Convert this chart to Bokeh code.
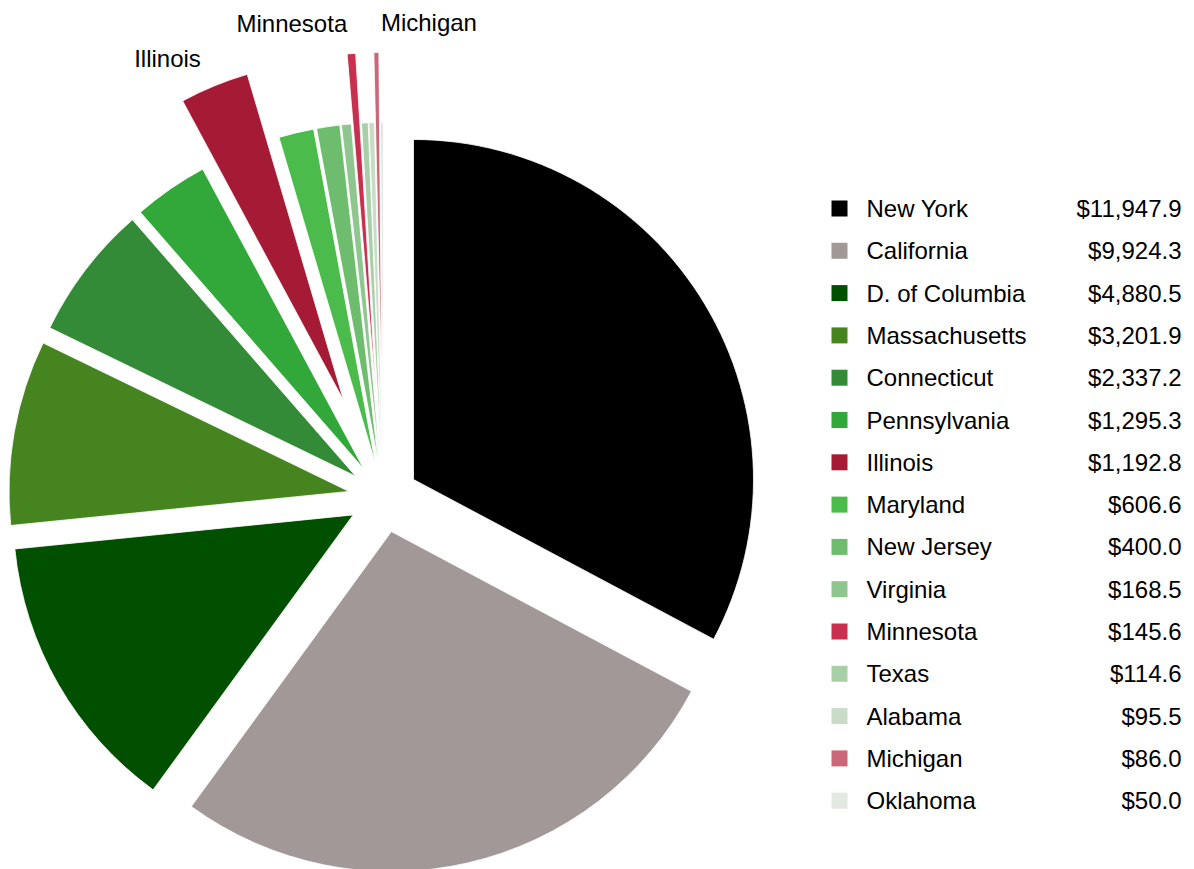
import math
from bokeh.plotting import figure
from bokeh.models import ColumnDataSource, Range1d
from bokeh.core.properties import value
from bokeh.embed import file_html
from bokeh.resources import INLINE

# ---- data ----
states = ["New York", "California", "D. of Columbia", "Massachusetts", "Connecticut",
          "Pennsylvania", "Illinois", "Maryland", "New Jersey", "Virginia",
          "Minnesota", "Texas", "Alabama", "Michigan", "Oklahoma"]
amounts = [11947.9, 9924.3, 4880.5, 3201.9, 2337.2, 1295.3, 1192.8, 606.6, 400.0,
           168.5, 145.6, 114.6, 95.5, 86.0, 50.0]
value_labels = ["$11,947.9", "$9,924.3", "$4,880.5", "$3,201.9", "$2,337.2", "$1,295.3",
                "$1,192.8", "$606.6", "$400.0", "$168.5", "$145.6", "$114.6", "$95.5",
                "$86.0", "$50.0"]
colors = ["#000000", "#a19897", "#005000", "#468420", "#338a37", "#33a83a", "#a51a35",
          "#4bbb4b", "#6ebd6e", "#8fc58f", "#c9304f", "#a9cfa9", "#c8dcc8", "#c96879",
          "#e1e9e1"]
highlighted = ["Illinois", "Minnesota", "Michigan"]
label_align = {"Illinois": "right", "Minnesota": "right", "Michigan": "left"}

W, H = 1194, 869
CX, CY = 383, H - 497
R = 340
D_NORMAL = 35
D_HIGH = 105
FONT = "24px"

total = sum(amounts)
xs, ys, starts, ends = [], [], [], []
lab_x, lab_y, lab_t, lab_a = [], [], [], []
cum = 0.0
for name, v in zip(states, amounts):
    a0 = cum / total * 2 * math.pi
    cum += v
    a1 = cum / total * 2 * math.pi
    bis = (a0 + a1) / 2
    d = D_HIGH if name in highlighted else D_NORMAL
    ox = CX + d * math.sin(bis)
    oy = CY + d * math.cos(bis)
    xs.append(ox)
    ys.append(oy)
    starts.append(math.pi / 2 - a1)
    ends.append(math.pi / 2 - a0)
    if name in highlighted:
        rr = d + R + 30
        lx = CX + rr * math.sin(bis)
        ly = CY + rr * math.cos(bis)
        al = label_align[name]
        lab_x.append(lx + (5 if al == "left" else -2))
        lab_y.append(ly)
        lab_t.append(name)
        lab_a.append(al)

p = figure(width=W, height=H, output_backend="svg", toolbar_location=None,
           x_range=Range1d(0, W), y_range=Range1d(0, H),
           x_axis_type=None, y_axis_type=None, min_border=0)
p.grid.visible = False
p.outline_line_color = None
p.background_fill_color = "white"

src = ColumnDataSource(dict(x=xs, y=ys, start=starts, end=ends, color=colors))
p.wedge(x="x", y="y", radius=R, start_angle="start", end_angle="end",
        fill_color="color", line_color="white", line_width=0.8, source=src)

lsrc = ColumnDataSource(dict(x=lab_x, y=lab_y, t=lab_t, a=lab_a))
p.text(x="x", y="y", text="t", text_align="a", text_baseline="middle",
       text_font=value("Liberation Sans"), text_font_size=FONT, text_color="#000000",
       source=lsrc)

# legend
row0 = 208
step = 42.3
ly = [H - (row0 + step * i) for i in range(len(states))]
leg = ColumnDataSource(dict(y=ly, name=states, val=value_labels, color=colors,
                            sx=[839] * len(states), nx=[866] * len(states),
                            vx=[1181] * len(states)))
p.rect(x="sx", y="y", width=16, height=16, fill_color="color", line_color=None, source=leg)
p.text(x="nx", y="y", text="name", text_baseline="middle", text_align="left",
       text_font=value("Liberation Sans"), text_font_size=FONT, text_color="#000000",
       source=leg)
p.text(x="vx", y="y", text="val", text_baseline="middle", text_align="right",
       text_font=value("Liberation Sans"), text_font_size=FONT, text_color="#000000",
       source=leg)

open("out.html", "w").write(file_html(p, INLINE))
